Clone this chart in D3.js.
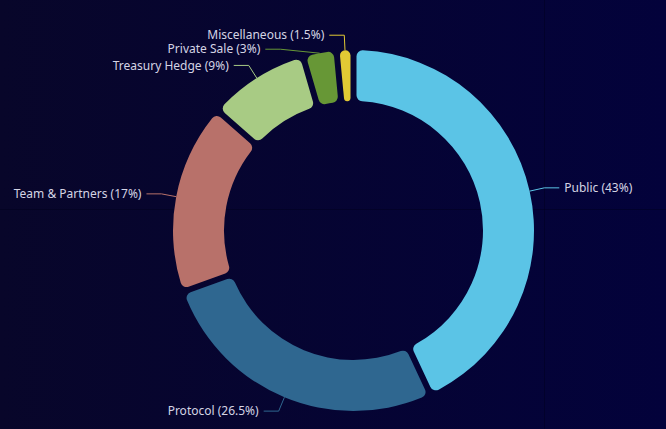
<!DOCTYPE html>
<html>
<head>
<meta charset="utf-8">
<script src="https://cdn.jsdelivr.net/npm/d3@7"></script>
<style>
  html, body { margin: 0; padding: 0; background: #04032f; }
  svg { display: block; }
</style>
</head>
<body>
<div class="graphics"></div>
<script>
// datos del grafico
var categories = ["Public", "Protocol", "Team & Partners", "Treasury Hedge", "Private Sale", "Miscellaneous"];
var shares = [43, 26.5, 17, 9, 3, 1.5];
var colors = ["#5bc4e6", "#2f6790", "#b8716a", "#a8cb84", "#679736", "#e2c934"];

var w = 666, h = 429;
var cx = 353.5, cy = 230.5;
var outerR = 180.5, innerR = 129.5;
var len1 = 15, len2 = 15;

var svg = d3.select('.graphics')
    .append('svg')
    .attr("width", w)
    .attr("height", h);

// fondo con degradado
var defs = svg.append("defs");
var grad = defs.append("linearGradient").attr("id", "bg").attr("x1", "0").attr("x2", "1").attr("y1", "0").attr("y2", "0");
grad.append("stop").attr("offset", "0").attr("stop-color", "#08062a");
grad.append("stop").attr("offset", "1").attr("stop-color", "#03023b");
svg.append("rect").attr("width", w).attr("height", h).attr("fill", "url(#bg)");
// lineas tenues del fondo
svg.append("line").attr("x1", 0).attr("x2", w).attr("y1", 209.5).attr("y2", 209.5)
    .attr("stroke", "#000018").attr("stroke-opacity", 0.4);
svg.append("line").attr("x1", 544.5).attr("x2", 544.5).attr("y1", 0).attr("y2", h)
    .attr("stroke", "#000018").attr("stroke-opacity", 0.4);

var data = categories.map(function(c, i){
    return {name: c, value: shares[i], color: colors[i]};
});

// el pie reparte los angulos proporcionales, el hueco lo pone el arco
var pie = d3.pie()
    .value(function(d){ return d.value; })
    .sort(null);

var arc = d3.arc()
    .innerRadius(innerR)
    .outerRadius(outerR)
    .padAngle(0.027)
    .cornerRadius(6);

var arcs = pie(data);

var g = svg.append("g").attr("transform", "translate(" + cx + "," + cy + ")");

g.selectAll("path.slice")
    .data(arcs)
    .enter()
    .append("path")
    .attr("class", "slice")
    .attr("d", arc)
    .attr("fill", function(d){ return d.data.color; });

// posiciones de etiquetas
var labels = arcs.map(function(d){
    var a = (d.startAngle + d.endAngle) / 2;
    var r2 = outerR + len1;
    return {
        d: d,
        a: a,
        right: Math.sin(a) >= 0,
        px: Math.sin(a) * outerR,
        py: -Math.cos(a) * outerR,
        y: -Math.cos(a) * r2,
        r2: r2
    };
});

// evitar solapamiento por lado
[true, false].forEach(function(side){
    var list = labels.filter(function(l){ return l.right === side; })
        .sort(function(a, b){ return a.y - b.y; });
    for (var i = 1; i < list.length; i++) {
        if (list[i].y < list[i-1].y + 14) list[i].y = list[i-1].y + 14;
    }
});

// recalcular x sobre el circulo exterior
labels.forEach(function(l){
    var dy = Math.min(Math.abs(l.y), l.r2);
    var ex = Math.sqrt(l.r2 * l.r2 - dy * dy) * (l.right ? 1 : -1);
    l.ex = ex;
    l.lx = ex + (l.right ? len2 : -len2);
});

g.selectAll("polyline.lbl")
    .data(labels)
    .enter()
    .append("polyline")
    .attr("class", "lbl")
    .attr("points", function(l){
        return [[l.px, l.py], [l.ex, l.y], [l.lx, l.y]].join(" ");
    })
    .attr("fill", "none")
    .attr("stroke", function(l){ return l.d.data.color; })
    .attr("stroke-width", 1);

g.selectAll("text.lbl")
    .data(labels)
    .enter()
    .append("text")
    .attr("class", "lbl")
    .attr("x", function(l){ return l.lx + (l.right ? 5 : -5); })
    .attr("y", function(l){ return l.y; })
    .attr("dy", "0.35em")
    .attr("text-anchor", function(l){ return l.right ? "start" : "end"; })
    .attr("fill", "#d4d4e4")
    .style("font-family", "'Noto Sans', sans-serif")
    .style("font-size", "12px")
    .text(function(l){ return l.d.data.name + " (" + l.d.data.value + "%)"; });
</script>
</body>
</html>
